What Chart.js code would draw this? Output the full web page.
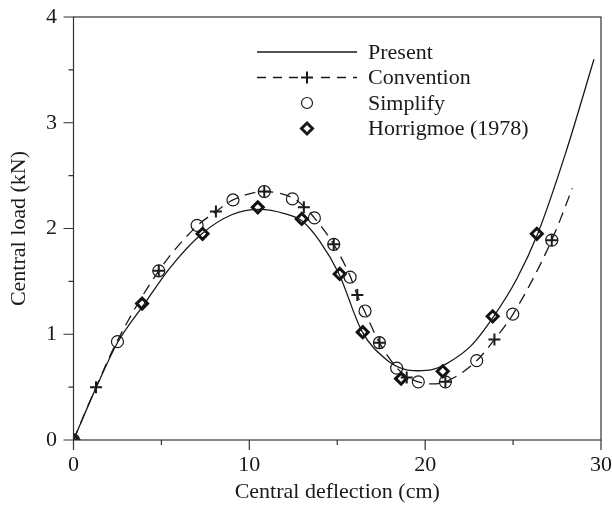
<!DOCTYPE html>
<html>
<head>
<meta charset="utf-8">
<script src="https://cdn.jsdelivr.net/npm/chart.js@4.4.1/dist/chart.umd.min.js"></script>
<style>
  html, body { margin: 0; padding: 0; background: #fff; }
  #wrap { width: 612px; height: 506px; }
</style>
</head>
<body>
<div id="wrap"><canvas id="chart" width="612" height="506"></canvas></div>
<script>
const presentX = [0, 1.3, 2.5, 4, 5.5, 7.3, 9, 10.6, 12, 13, 14, 15.1, 16.4, 17.8, 18.8, 19.6, 20.4, 21.2, 22.6, 23.9, 25.2, 26.4, 28, 29.6];
const presentY = [0, 0.5, 0.92, 1.28, 1.63, 1.95, 2.13, 2.18, 2.14, 2.07, 1.88, 1.57, 1.03, 0.76, 0.67, 0.655, 0.665, 0.72, 0.89, 1.17, 1.52, 1.95, 2.72, 3.6];

const conventionX = [0, 1.28, 2.5, 4.85, 7.0, 8.1, 9.07, 10.85, 12.45, 13.1, 13.7, 14.8, 15.73, 16.14, 16.6, 17.4, 18.4, 18.95, 19.6, 20.3, 21.15, 22.93, 23.94, 25, 27.2, 28.37];
const conventionY = [0, 0.5, 0.94, 1.6, 2.02, 2.16, 2.27, 2.35, 2.29, 2.21, 2.1, 1.85, 1.55, 1.37, 1.2, 0.92, 0.68, 0.6, 0.55, 0.53, 0.55, 0.75, 0.95, 1.19, 1.89, 2.38];

const crossX = [0, 1.28, 4.85, 8.1, 10.85, 13.1, 14.8, 16.14, 17.4, 18.95, 21.15, 23.94, 27.2];
const crossY = [0, 0.5, 1.6, 2.16, 2.35, 2.2, 1.85, 1.37, 0.92, 0.59, 0.55, 0.95, 1.89];

const simplifyX = [0, 2.5, 4.85, 7.03, 9.07, 10.85, 12.45, 13.7, 14.8, 15.73, 16.58, 17.4, 18.38, 19.61, 21.15, 22.93, 24.98, 27.2];
const simplifyY = [0, 0.93, 1.6, 2.03, 2.27, 2.35, 2.28, 2.1, 1.85, 1.54, 1.22, 0.92, 0.68, 0.55, 0.55, 0.75, 1.19, 1.89];

const horrigmoeX = [0, 3.9, 7.34, 10.48, 12.98, 15.14, 16.45, 18.63, 21.0, 23.84, 26.35];
const horrigmoeY = [0, 1.29, 1.95, 2.2, 2.09, 1.57, 1.02, 0.58, 0.65, 1.17, 1.95];

const xLabels = [0, 10, 20, 30];
const yLabels = [0, 1, 2, 3, 4];
const seriesNames = ['Present', 'Convention', 'Simplify', 'Horrigmoe (1978)'];

const INK = '#1a1a1a';
const FONT = '"Liberation Serif", "Times New Roman", serif';

function toPoints(xs, ys) {
  return xs.map((x, i) => ({ x, y: ys[i] }));
}

const frameAndTicks = {
  id: 'frameAndTicks',
  afterDraw(chart) {
    const { ctx, chartArea: a } = chart;
    const xs = chart.scales.x, ys = chart.scales.y;
    ctx.save();
    ctx.strokeStyle = '#333';
    ctx.lineWidth = 1.2;
    ctx.strokeRect(a.left, a.top, a.right - a.left, a.bottom - a.top);
    ctx.beginPath();
    xs.ticks.forEach(t => {
      const px = xs.getPixelForValue(t.value);
      const len = xLabels.includes(t.value) ? 10 : 5;
      ctx.moveTo(px, a.bottom);
      ctx.lineTo(px, a.bottom + len);
    });
    ys.ticks.forEach(t => {
      const py = ys.getPixelForValue(t.value);
      const len = yLabels.includes(t.value) ? 10 : 5;
      ctx.moveTo(a.left, py);
      ctx.lineTo(a.left - len, py);
    });
    ctx.stroke();
    ctx.restore();
  }
};

const customLegend = {
  id: 'customLegend',
  afterDraw(chart) {
    const ctx = chart.ctx;
    const x0 = 257, x1 = 357, mid = 307, tx = 368;
    const rows = [52, 77.5, 103, 128.5];
    ctx.save();
    ctx.strokeStyle = INK;
    ctx.fillStyle = INK;

    ctx.lineWidth = 1.3;
    ctx.beginPath();
    ctx.moveTo(x0, rows[0]);
    ctx.lineTo(x1, rows[0]);
    ctx.stroke();

    ctx.setLineDash([9, 7]);
    ctx.beginPath();
    ctx.moveTo(x0, rows[1]);
    ctx.lineTo(x1, rows[1]);
    ctx.stroke();
    ctx.setLineDash([]);
    ctx.lineWidth = 2;
    ctx.clearRect(mid - 8, rows[1] - 7, 16, 14);
    ctx.beginPath();
    ctx.moveTo(mid - 6, rows[1]);
    ctx.lineTo(mid + 6, rows[1]);
    ctx.moveTo(mid, rows[1] - 6);
    ctx.lineTo(mid, rows[1] + 6);
    ctx.stroke();

    ctx.lineWidth = 1.2;
    ctx.beginPath();
    ctx.arc(mid, rows[2], 5.5, 0, Math.PI * 2);
    ctx.stroke();

    ctx.lineWidth = 3;
    ctx.fillStyle = '#fff';
    ctx.beginPath();
    ctx.moveTo(mid, rows[3] - 5.5);
    ctx.lineTo(mid + 5.5, rows[3]);
    ctx.lineTo(mid, rows[3] + 5.5);
    ctx.lineTo(mid - 5.5, rows[3]);
    ctx.closePath();
    ctx.fill();
    ctx.stroke();

    ctx.fillStyle = INK;
    ctx.font = '22px ' + FONT;
    ctx.textBaseline = 'middle';
    ctx.textAlign = 'left';
    seriesNames.forEach((name, i) => ctx.fillText(name, tx, rows[i] + 1));
    ctx.restore();
  }
};

new Chart(document.getElementById('chart'), {
  type: 'scatter',
  data: {
    datasets: [
      {
        label: seriesNames[0],
        data: toPoints(presentX, presentY),
        showLine: true,
        cubicInterpolationMode: 'monotone',
        borderColor: INK,
        borderWidth: 1.3,
        pointRadius: 0
      },
      {
        label: seriesNames[1] + ' curve',
        data: toPoints(conventionX, conventionY),
        showLine: true,
        cubicInterpolationMode: 'monotone',
        borderColor: INK,
        borderWidth: 1.3,
        borderDash: [11, 7],
        pointRadius: 0
      },
      {
        label: seriesNames[1],
        data: toPoints(crossX, crossY),
        pointStyle: 'cross',
        pointRadius: 6,
        borderColor: INK,
        borderWidth: 2
      },
      {
        label: seriesNames[2],
        data: toPoints(simplifyX, simplifyY),
        pointStyle: 'circle',
        pointRadius: 6,
        backgroundColor: 'rgba(0,0,0,0)',
        borderColor: INK,
        borderWidth: 1.2
      },
      {
        label: seriesNames[3],
        data: toPoints(horrigmoeX, horrigmoeY),
        pointStyle: 'rectRot',
        pointRadius: 5.5,
        backgroundColor: '#fff',
        borderColor: '#111',
        borderWidth: 3
      }
    ]
  },
  options: {
    responsive: false,
    animation: false,
    layout: { padding: { top: 17, right: 11, left: 0, bottom: 0 } },
    plugins: { legend: { display: false }, tooltip: { enabled: false } },
    scales: {
      x: {
        type: 'linear',
        min: 0,
        max: 30,
        grid: { display: false, drawTicks: false },
        border: { display: false },
        ticks: {
          stepSize: 5,
          padding: 12,
          color: INK,
          font: { family: FONT, size: 22 },
          maxRotation: 0,
          autoSkip: false,
          callback: v => xLabels.includes(v) ? String(v) : ''
        },
        title: {
          display: true,
          text: 'Central deflection (cm)',
          color: INK,
          font: { family: FONT, size: 22 },
          padding: { top: 0, bottom: 1 }
        },
        afterFit: s => {
          s.height = 66;
          s.paddingLeft = 0;
          s.paddingRight = 0;
        }
      },
      y: {
        type: 'linear',
        min: 0,
        max: 4,
        grid: { display: false, drawTicks: false },
        border: { display: false },
        ticks: {
          stepSize: 0.5,
          padding: 16.5,
          color: INK,
          font: { family: FONT, size: 22 },
          autoSkip: false,
          callback: v => yLabels.includes(v) ? String(v) : ''
        },
        title: {
          display: true,
          text: 'Central load (kN)',
          color: INK,
          font: { family: FONT, size: 22 },
          padding: { top: 6, bottom: 0 }
        },
        afterFit: s => {
          s.width = 73.5;
          s.paddingTop = 0;
          s.paddingBottom = 0;
        }
      }
    }
  },
  plugins: [frameAndTicks, customLegend]
});
</script>
</body>
</html>
